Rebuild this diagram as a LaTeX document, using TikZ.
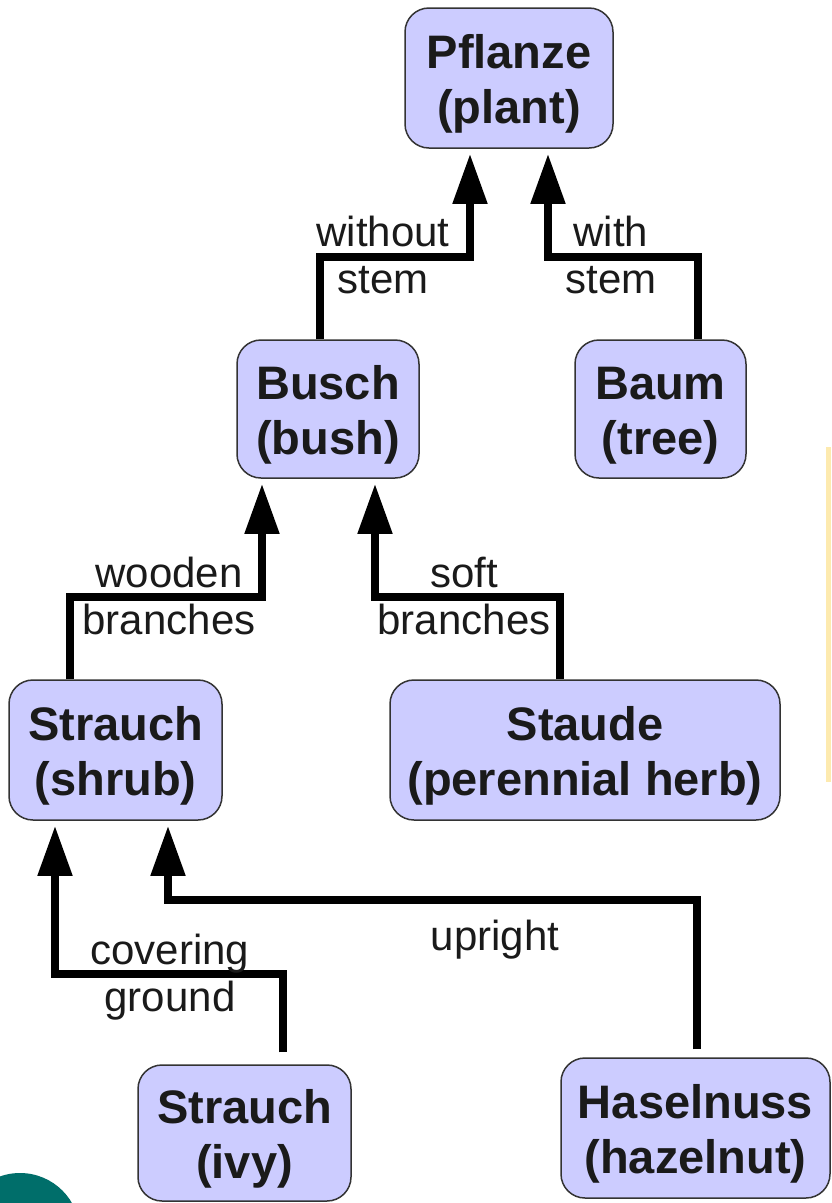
\documentclass[tikz,border=0pt]{standalone}
\usepackage{fontspec}
\setmainfont{Liberation Sans}
\usetikzlibrary{arrows.meta}
\definecolor{boxfill}{RGB}{204,204,255}
\definecolor{boxline}{RGB}{51,51,51}
\definecolor{txt}{RGB}{26,26,26}
\definecolor{tealdeco}{RGB}{0,110,106}
\definecolor{paleyellow}{RGB}{253,234,175}
\newcommand{\topstrut}{\rule{0pt}{45pt}}
\begin{document}
\begin{tikzpicture}[x=1pt,y=1pt,
  box/.style={draw=boxline, line width=1.5pt, fill=boxfill, rounded corners=24pt,
    inner sep=0pt, text=txt, font=\fontsize{47}{55}\selectfont\bfseries, align=center},
  conn/.style={line width=8pt, line join=miter, -{Triangle[length=50pt,width=33pt]}, shorten >=5pt},
  lbl/.style={text=txt, font=\fontsize{42}{47}\selectfont, align=center, inner sep=0pt}]
\clip (0,0) rectangle (831,-1203);
\fill[white] (0,0) rectangle (831,-1203);
% decorative fragments at the edges
\fill[paleyellow] (826,-447) rectangle (831,-782);
\fill[tealdeco] (20,-1233) circle (60);
% nodes
\node[box, minimum width=208pt, minimum height=140pt] (pflanze) at (509,-78) {\topstrut Pflanze\\(plant)};
\node[box, minimum width=182pt, minimum height=138pt] (busch) at (328,-409) {\topstrut Busch\\(bush)};
\node[box, minimum width=171pt, minimum height=138pt] (baum) at (660.5,-409) {\topstrut Baum\\(tree)};
\node[box, minimum width=213pt, minimum height=140pt] (shrub) at (115.5,-750) {\topstrut Strauch\\(shrub)};
\node[box, minimum width=390pt, minimum height=140pt] (staude) at (585,-750) {\topstrut Staude\\(perennial herb)};
\node[box, minimum width=213pt, minimum height=136pt] (ivy) at (244.5,-1133) {\topstrut Strauch\\(ivy)};
\node[box, minimum width=269pt, minimum height=140pt] (hasel) at (695.5,-1128) {\topstrut Haselnuss\\(hazelnut)};
% connectors
\draw[conn] ([xshift=-8pt]busch.north) -- ++(0,82) -| ([xshift=-39pt]pflanze.south);
\draw[conn] ([xshift=37.5pt]baum.north) -- ++(0,82) -| ([xshift=39pt]pflanze.south);
\draw[conn] ([xshift=-45.5pt]shrub.north) -- ++(0,82) -| ([xshift=-66pt]busch.south);
\draw[conn] ([xshift=-25pt]staude.north) -- ++(0,82) -| ([xshift=47pt]busch.south);
\draw[conn, shorten <=12pt] ([xshift=38.5pt]ivy.north) -- ++(0,90) -| ([xshift=-60.5pt]shrub.south);
\draw[conn, shorten <=8pt] ([xshift=1pt]hasel.north) -- ++(0,157) -| ([xshift=52.5pt]shrub.south);
% labels
\node[lbl] (l1) at (383,-255) {without\\stem};
\node[lbl] (l2) at (611,-255) {with\\stem};
\node[lbl] (l3) at (169,-596) {wooden\\branches};
\node[lbl] (l4) at (464,-596) {soft\\branches};
\node[lbl] (l5) at (170,-977) {covering\\ground};
\node[lbl] (l6) at (495,-940) {upright};
\end{tikzpicture}
\end{document}
